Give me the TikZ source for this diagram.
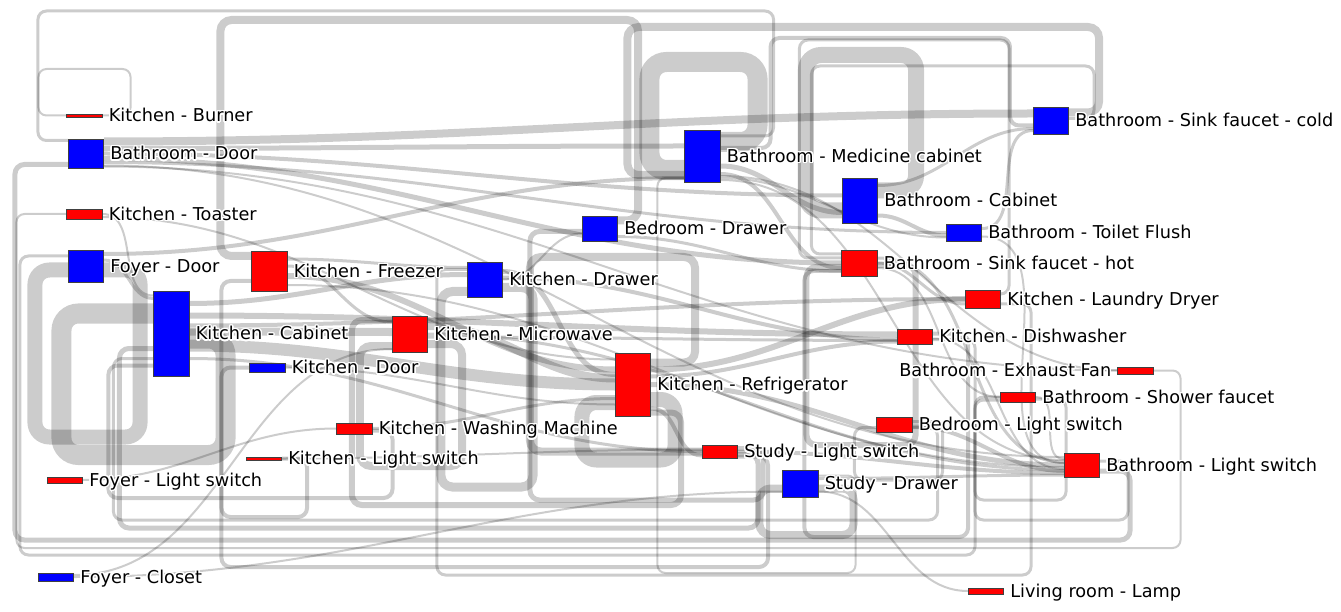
\documentclass[tikz,border=0pt]{standalone}
\usepackage{fontspec}
\setmainfont{DejaVu Sans}
\usepackage[copies]{contour}
\contourlength{1.4pt}
\contournumber{16}
\usetikzlibrary{positioning,calc,backgrounds}

\tikzset{
    box/.style={draw=black!75, line width=.6pt, fill=#1, minimum width=35.5pt, inner sep=0pt},
    lbl/.style={font=\fontsize{17.7pt}{20pt}\selectfont, inner sep=0pt, text height=12.9pt, text depth=0pt},
    link/.style={draw=black, draw opacity=.2, line width=#1pt, out=0, in=180}
}

% a forward link: source, offset, target, offset, width
\newcommand{\fl}[5]{\draw[link=#5] ($(#1.east)+(0,#2)$) to ($(#3.west)+(0,#4)$);}
% a circular link: source, offset, target, offset, width, right gap, left gap, level
\newcommand{\cy}[8]{%
    \pgfmathsetmacro\rr{#5*0.5+7}
    \draw[link=#5, rounded corners=\rr pt] let \p1=($(#1.east)+(0,#2)$), \p2=($(#3.west)+(0,#4)$) in
        (\p1) -- (\x1+#6pt,\y1) -- (\x1+#6pt,-#8pt) -- (\x2-#7pt,-#8pt) -- (\x2-#7pt,\y2) -- (\p2);}

\begin{document}
\begin{tikzpicture}[x=1pt, y=-1pt]
    \useasboundingbox (0,0) rectangle (1341,612);

    % the sensors (here I place them at the pixel positions of the plot)
    \node[box=red, minimum height=3pt] (burner) at (84.5,115.5) {};
    \node[box=blue, minimum height=29pt] (bathdoor) at (86,153.5) {};
    \node[box=red, minimum height=10pt] (toaster) at (84.5,214) {};
    \node[box=blue, minimum height=32pt] (foyerdoor) at (86,266) {};
    \node[box=red, minimum height=40pt] (freezer) at (269.5,271) {};
    \node[box=blue, minimum height=85pt] (kcabinet) at (171.5,333.5) {};
    \node[box=blue, minimum height=9pt] (kdoor) at (267.5,367.5) {};
    \node[box=red, minimum height=36pt] (microwave) at (410,334) {};
    \node[box=red, minimum height=11pt] (washing) at (354.5,428.5) {};
    \node[box=red, minimum height=3pt] (klight) at (264,458.5) {};
    \node[box=red, minimum height=6pt] (foyerlight) at (65,480) {};
    \node[box=blue, minimum height=8pt] (foyercloset) at (56,577) {};
    \node[box=blue, minimum height=52pt] (medcab) at (702.5,156) {};
    \node[box=blue, minimum height=25pt] (bedrawer) at (600,228.5) {};
    \node[box=blue, minimum height=35pt] (kdrawer) at (485,279.5) {};
    \node[box=red, minimum height=63pt] (fridge) at (633,384.5) {};
    \node[box=red, minimum height=13pt] (studylight) at (720,451.5) {};
    \node[box=blue, minimum height=27pt] (studydrawer) at (800.5,483.5) {};
    \node[box=blue, minimum height=45pt] (bcabinet) at (860,200.5) {};
    \node[box=red, minimum height=26pt] (sinkhot) at (859.5,263) {};
    \node[box=blue, minimum height=17pt] (toilet) at (964,232.5) {};
    \node[box=blue, minimum height=27pt] (sinkcold) at (1051,120.5) {};
    \node[box=red, minimum height=18pt] (dryer) at (983,299) {};
    \node[box=red, minimum height=15pt] (dishwasher) at (915,336.5) {};
    \node[box=red, minimum height=7pt] (fan) at (1135.5,370.5) {};
    \node[box=red, minimum height=10pt] (shower) at (1018,397) {};
    \node[box=red, minimum height=15pt] (bedlight) at (894.5,424.5) {};
    \node[box=red, minimum height=24pt] (bathlight) at (1082,465) {};
    \node[box=red, minimum height=6pt] (lamp) at (986,591) {};

    \begin{scope}[on background layer]
    \fill[white] (0,0) rectangle (1341,612);

    % circular links (self loops and links that run over or under the plot)
    \cy{burner}{0}{burner}{0}{2}{28}{28}{69}
    \cy{medcab}{-20}{bathdoor}{-13}{3}{53}{30}{11}
    \cy{bedrawer}{-8}{freezer}{-15}{8}{20}{31}{20}
    \cy{sinkcold}{-8}{medcab}{19}{8}{30}{57}{27}
    \cy{medcab}{-8}{sinkcold}{5}{4}{50}{23}{38}
    \cy{medcab}{-14}{medcab}{14}{20}{37}{35}{62}
    \cy{bcabinet}{-10}{bcabinet}{10}{16}{38}{36}{55}
    \cy{dryer}{-5}{sinkhot}{-5}{3}{8}{42}{40}
    \cy{sinkcold}{-2}{sinkhot}{-9}{3}{25}{30}{66}
    \cy{sinkhot}{2}{sinkhot}{4}{6}{38}{35}{445}
    \cy{dishwasher}{-3}{sinkhot}{8}{4}{35}{37}{537}
    \cy{studydrawer}{-8}{medcab}{22}{2}{37}{27}{573}
    \cy{fridge}{-22}{studylight}{0}{8}{44}{172}{257}
    \cy{studylight}{-3}{bedrawer}{3}{5}{25}{52}{500}
    \cy{kdrawer}{8}{kdrawer}{12}{9}{30}{26}{487}
    \cy{microwave}{10}{microwave}{12}{8}{34}{32}{466}
    \cy{kcabinet}{5}{kcabinet}{-20}{20}{36}{92}{455}
    \cy{foyerdoor}{4}{foyerdoor}{4}{15}{36}{33}{437}
    \cy{klight}{0}{kdoor}{0}{4}{25}{28}{517}
    \cy{fridge}{15}{fridge}{18}{15}{24}{33}{460}
    \cy{studydrawer}{5}{studydrawer}{5}{8}{35}{23}{535}
    \cy{bathlight}{6}{bathdoor}{11}{5}{30}{53}{540}
    \cy{bathlight}{-4}{shower}{0}{3}{28}{25}{520}
    \cy{fan}{0}{toaster}{0}{2}{27}{50}{548}
    \cy{dishwasher}{3}{foyerdoor}{-10}{3}{42}{48}{555}
    \cy{studylight}{3}{kcabinet}{15}{5}{20}{34}{528}
    \cy{bedlight}{3}{kcabinet}{25}{3}{25}{40}{520}
    \cy{washing}{2}{kcabinet}{32}{4}{20}{45}{498}
    \cy{dryer}{5}{kdrawer}{-10}{3}{30}{30}{575}
    \cy{shower}{2}{shower}{3}{3}{30}{25}{500}
    \cy{bedlight}{-3}{bedlight}{3}{3}{30}{22}{480}
    \cy{fridge}{28}{microwave}{-14}{6}{30}{40}{505}
    \cy{studylight}{5}{freezer}{10}{4}{30}{30}{567}

    % forward links
    \fl{bathdoor}{-12}{sinkcold}{-7}{8}
    \fl{bathdoor}{-5}{medcab}{-10}{5}
    \fl{bathdoor}{0}{bcabinet}{-5}{4}
    \fl{bathdoor}{5}{sinkhot}{0}{5}
    \fl{bathdoor}{9}{toilet}{0}{3}
    \fl{bathdoor}{12}{bathlight}{-8}{2}
    \fl{bathdoor}{13}{fan}{0}{2}
    \fl{toaster}{0}{kcabinet}{-38}{2}
    \fl{toaster}{3}{fridge}{-25}{2}
    \fl{foyerdoor}{-12}{medcab}{22}{4}
    \fl{foyerdoor}{-6}{kcabinet}{-35}{3}
    \fl{freezer}{-12}{kdrawer}{-12}{3}
    \fl{freezer}{-5}{microwave}{-12}{3}
    \fl{freezer}{5}{fridge}{-15}{6}
    \fl{freezer}{14}{bathlight}{2}{2}
    \fl{kcabinet}{-30}{kdrawer}{-5}{5}
    \fl{kcabinet}{-18}{dishwasher}{-2}{6}
    \fl{kcabinet}{-8}{dryer}{0}{4}
    \fl{kcabinet}{-2}{microwave}{-2}{8}
    \fl{kcabinet}{12}{fridge}{0}{12}
    \fl{kcabinet}{25}{studylight}{0}{3}
    \fl{microwave}{-8}{fridge}{-6}{8}
    \fl{microwave}{0}{bathlight}{5}{3}
    \fl{microwave}{3}{dishwasher}{4}{3}
    \fl{kdrawer}{-8}{fridge}{-10}{5}
    \fl{kdrawer}{-2}{dishwasher}{3}{4}
    \fl{kdrawer}{0}{bedrawer}{5}{2}
    \fl{fridge}{-15}{dryer}{0}{6}
    \fl{fridge}{-8}{dishwasher}{5}{4}
    \fl{fridge}{0}{bathlight}{0}{5}
    \fl{fridge}{24}{studylight}{4}{4}
    \fl{medcab}{10}{bcabinet}{12}{5}
    \fl{medcab}{18}{sinkhot}{5}{4}
    \fl{medcab}{22}{toilet}{5}{2}
    \fl{medcab}{24}{bathlight}{-5}{2}
    \fl{medcab}{20}{fan}{0}{2}
    \fl{bcabinet}{-15}{sinkcold}{8}{3}
    \fl{bcabinet}{15}{toilet}{3}{4}
    \fl{sinkhot}{-5}{bathlight}{-3}{3}
    \fl{sinkhot}{5}{shower}{0}{2}
    \fl{sinkhot}{0}{dryer}{5}{3}
    \fl{toilet}{-4}{sinkcold}{10}{3}
    \fl{toilet}{4}{bathlight}{-2}{2}
    \fl{dishwasher}{2}{bathlight}{4}{2}
    \fl{bedlight}{2}{bathlight}{6}{4}
    \fl{studylight}{0}{bathlight}{8}{4}
    \fl{studydrawer}{-5}{bathlight}{10}{3}
    \fl{shower}{0}{bathlight}{-6}{2}
    \fl{foyercloset}{0}{studydrawer}{8}{2}
    \fl{foyercloset}{-2}{microwave}{15}{2}
    \fl{foyerlight}{0}{washing}{0}{2}
    \fl{washing}{0}{fridge}{14}{3}
    \fl{kdoor}{0}{fridge}{20}{2}
    \fl{klight}{0}{studylight}{-2}{2}
    \fl{studydrawer}{8}{lamp}{0}{2}
    \fl{bedrawer}{8}{sinkhot}{8}{3}
    \end{scope}

    % the labels
    \node[lbl, right=6pt of burner] (burnerlbl) {\contour{white}{Kitchen - Burner}};
    \node[lbl, right=6pt of bathdoor] (bathdoorlbl) {\contour{white}{Bathroom - Door}};
    \node[lbl, right=6pt of toaster] (toasterlbl) {\contour{white}{Kitchen - Toaster}};
    \node[lbl, right=6pt of foyerdoor] (foyerdoorlbl) {\contour{white}{Foyer - Door}};
    \node[lbl, right=6pt of freezer] (freezerlbl) {\contour{white}{Kitchen - Freezer}};
    \node[lbl, right=6pt of kcabinet] (kcabinetlbl) {\contour{white}{Kitchen - Cabinet}};
    \node[lbl, right=6pt of kdoor] (kdoorlbl) {\contour{white}{Kitchen - Door}};
    \node[lbl, right=6pt of microwave] (microwavelbl) {\contour{white}{Kitchen - Microwave}};
    \node[lbl, right=6pt of washing] (washinglbl) {\contour{white}{Kitchen - Washing Machine}};
    \node[lbl, right=6pt of klight] (klightlbl) {\contour{white}{Kitchen - Light switch}};
    \node[lbl, right=6pt of foyerlight] (foyerlightlbl) {\contour{white}{Foyer - Light switch}};
    \node[lbl, right=6pt of foyercloset] (foyerclosetlbl) {\contour{white}{Foyer - Closet}};
    \node[lbl, right=6pt of medcab] (medcablbl) {\contour{white}{Bathroom - Medicine cabinet}};
    \node[lbl, right=6pt of bedrawer] (bedrawerlbl) {\contour{white}{Bedroom - Drawer}};
    \node[lbl, right=6pt of kdrawer] (kdrawerlbl) {\contour{white}{Kitchen - Drawer}};
    \node[lbl, right=6pt of fridge] (fridgelbl) {\contour{white}{Kitchen - Refrigerator}};
    \node[lbl, right=6pt of studylight] (studylightlbl) {\contour{white}{Study - Light switch}};
    \node[lbl, right=6pt of studydrawer] (studydrawerlbl) {\contour{white}{Study - Drawer}};
    \node[lbl, right=6pt of bcabinet] (bcabinetlbl) {\contour{white}{Bathroom - Cabinet}};
    \node[lbl, right=6pt of sinkhot] (sinkhotlbl) {\contour{white}{Bathroom - Sink faucet - hot}};
    \node[lbl, right=6pt of toilet] (toiletlbl) {\contour{white}{Bathroom - Toilet Flush}};
    \node[lbl, right=6pt of sinkcold] (sinkcoldlbl) {\contour{white}{Bathroom - Sink faucet - cold}};
    \node[lbl, right=6pt of dryer] (dryerlbl) {\contour{white}{Kitchen - Laundry Dryer}};
    \node[lbl, right=6pt of dishwasher] (dishwasherlbl) {\contour{white}{Kitchen - Dishwasher}};
    \node[lbl, left=6pt of fan] (fanlbl) {\contour{white}{Bathroom - Exhaust Fan}};
    \node[lbl, right=6pt of shower] (showerlbl) {\contour{white}{Bathroom - Shower faucet}};
    \node[lbl, right=6pt of bedlight] (bedlightlbl) {\contour{white}{Bedroom - Light switch}};
    \node[lbl, right=6pt of bathlight] (bathlightlbl) {\contour{white}{Bathroom - Light switch}};
    \node[lbl, right=6pt of lamp] (lamplbl) {\contour{white}{Living room - Lamp}};

\end{tikzpicture}
\end{document}
